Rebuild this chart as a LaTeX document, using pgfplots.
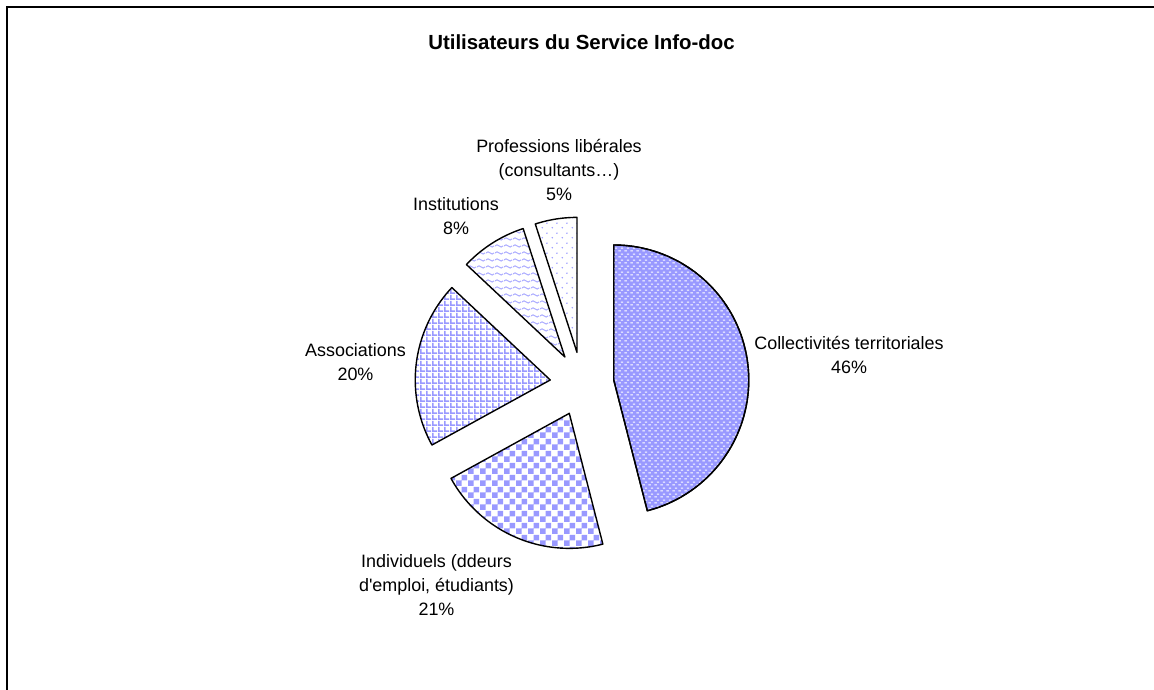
\documentclass[border=0pt]{standalone}
\usepackage{pgfplots}
\pgfplotsset{compat=1.18}
\usepackage{fontspec}
\setmainfont{Liberation Sans}[Ligatures=TeXOff]
\usetikzlibrary{patterns.meta}
\definecolor{piecol}{HTML}{9999FF}

\pgfdeclarepattern{name=collpat, type=uncolored,
  bottom left={\pgfpoint{0bp}{0bp}}, top right={\pgfpoint{6bp}{6bp}},
  tile size={\pgfpoint{6bp}{6bp}},
  code={\pgfpathrectangle{\pgfpoint{0.4bp}{0.8bp}}{\pgfpoint{3bp}{1.2bp}}%
        \pgfpathrectangle{\pgfpoint{3.4bp}{3.8bp}}{\pgfpoint{2.4bp}{1.2bp}}%
        \pgfusepath{fill}}}
\pgfdeclarepattern{name=checkpat, type=uncolored,
  bottom left={\pgfpoint{0bp}{0bp}}, top right={\pgfpoint{12bp}{12bp}},
  tile size={\pgfpoint{12bp}{12bp}},
  code={\pgfpathrectangle{\pgfpoint{0bp}{0bp}}{\pgfpoint{6bp}{6bp}}%
        \pgfpathrectangle{\pgfpoint{6bp}{6bp}}{\pgfpoint{6bp}{6bp}}%
        \pgfusepath{fill}}}
\pgfdeclarepattern{name=gridpat, type=uncolored,
  bottom left={\pgfpoint{0bp}{0bp}}, top right={\pgfpoint{6bp}{6bp}},
  tile size={\pgfpoint{6bp}{6bp}},
  code={\pgfpathrectangle{\pgfpoint{0bp}{0bp}}{\pgfpoint{6bp}{2bp}}%
        \pgfpathrectangle{\pgfpoint{0bp}{0bp}}{\pgfpoint{2bp}{6bp}}%
        \pgfusepath{fill}}}
\pgfdeclarepattern{name=wavepat, type=uncolored,
  bottom left={\pgfpoint{0bp}{0bp}}, top right={\pgfpoint{9bp}{7bp}},
  tile size={\pgfpoint{9bp}{7bp}},
  code={\pgfsetlinewidth{1.2bp}%
        \pgfpathmoveto{\pgfpoint{0bp}{3.5bp}}%
        \pgfpathsine{\pgfpoint{2.25bp}{1.2bp}}%
        \pgfpathcosine{\pgfpoint{2.25bp}{-1.2bp}}%
        \pgfpathsine{\pgfpoint{2.25bp}{-1.2bp}}%
        \pgfpathcosine{\pgfpoint{2.25bp}{1.2bp}}%
        \pgfusepath{stroke}}}
\pgfdeclarepattern{name=dotpat, type=uncolored,
  bottom left={\pgfpoint{0bp}{0bp}}, top right={\pgfpoint{10bp}{10bp}},
  tile size={\pgfpoint{10bp}{10bp}},
  code={\pgfpathcircle{\pgfpoint{2.5bp}{2.5bp}}{0.9bp}%
        \pgfpathcircle{\pgfpoint{7.5bp}{7.5bp}}{0.9bp}%
        \pgfusepath{fill}}}

% data: shares in percent
\def\vA{46}% Collectivites territoriales
\def\vB{21}% Individuels
\def\vC{20}% Associations
\def\vD{8}%  Institutions
\def\vE{5}%  Professions liberales

\def\rad{135}
\def\cx{582}
\def\cy{306}
\def\ex{32}

\pgfmathsetmacro{\sA}{90}
\pgfmathsetmacro{\eA}{\sA-3.6*\vA}
\pgfmathsetmacro{\eB}{\eA-3.6*\vB}
\pgfmathsetmacro{\eC}{\eB-3.6*\vC}
\pgfmathsetmacro{\eD}{\eC-3.6*\vD}
\pgfmathsetmacro{\eE}{\eD-3.6*\vE}
\pgfmathsetmacro{\xA}{\cx+\ex*cos((\sA+\eA)/2)}\pgfmathsetmacro{\yA}{\cy+\ex*sin((\sA+\eA)/2)}
\pgfmathsetmacro{\xB}{\cx+\ex*cos((\eA+\eB)/2)}\pgfmathsetmacro{\yB}{\cy+\ex*sin((\eA+\eB)/2)}
\pgfmathsetmacro{\xC}{\cx+\ex*cos((\eB+\eC)/2)}\pgfmathsetmacro{\yC}{\cy+\ex*sin((\eB+\eC)/2)}
\pgfmathsetmacro{\xD}{\cx+\ex*cos((\eC+\eD)/2)}\pgfmathsetmacro{\yD}{\cy+\ex*sin((\eC+\eD)/2)}
\pgfmathsetmacro{\xE}{\cx+\ex*cos((\eD+\eE)/2)}\pgfmathsetmacro{\yE}{\cy+\ex*sin((\eD+\eE)/2)}

\begin{document}%
\begin{tikzpicture}
\begin{axis}[x=1bp, y=1bp, xmin=0, xmax=1154, ymin=0, ymax=690,
  hide axis, clip=false,
  slice/.style={draw=black, line width=1.4bp, line join=round, samples=120}]
\coordinate (bl) at (axis cs:0,0);
\coordinate (tr) at (axis cs:1154,690);
\draw[line width=2bp] (axis cs:7,0) -- (axis cs:7,683) -- (axis cs:1154,683);

\addplot[slice, preaction={fill=piecol}, pattern=collpat, pattern color=white, domain=\eA:\sA]
  ({\xA+\rad*cos(x)},{\yA+\rad*sin(x)}) -- (axis cs:\xA,\yA) -- cycle;
\addplot[slice, pattern=checkpat, pattern color=piecol, domain=\eB:\eA]
  ({\xB+\rad*cos(x)},{\yB+\rad*sin(x)}) -- (axis cs:\xB,\yB) -- cycle;
\addplot[slice, pattern=gridpat, pattern color=piecol, domain=\eC:\eB]
  ({\xC+\rad*cos(x)},{\yC+\rad*sin(x)}) -- (axis cs:\xC,\yC) -- cycle;
\addplot[slice, pattern=wavepat, pattern color=piecol!80, domain=\eD:\eC]
  ({\xD+\rad*cos(x)},{\yD+\rad*sin(x)}) -- (axis cs:\xD,\yD) -- cycle;
\addplot[slice, pattern=dotpat, pattern color=piecol, domain=\eE:\eD]
  ({\xE+\rad*cos(x)},{\yE+\rad*sin(x)}) -- (axis cs:\xE,\yE) -- cycle;

\node[font=\fontsize{20.5}{24}\selectfont\bfseries] at (axis cs:581.5,648) {Utilisateurs du Service Info-doc};
\tikzset{lbl/.style={font=\fontsize{18}{24}\selectfont, align=center, inner sep=0pt}}
\node[lbl] at (axis cs:849,335) {Collectivités territoriales\\46\%};
\node[lbl] at (axis cs:436.5,105) {Individuels (ddeurs\\d'emploi, étudiants)\\21\%};
\node[lbl] at (axis cs:355.5,328) {Associations\\20\%};
\node[lbl] at (axis cs:456,474) {Institutions\\8\%};
\node[lbl] at (axis cs:559,520) {Professions libérales\\(consultants…)\\5\%};
\end{axis}
\pgfresetboundingbox
\path[use as bounding box] (bl) rectangle (tr);
\end{tikzpicture}%
\end{document}
